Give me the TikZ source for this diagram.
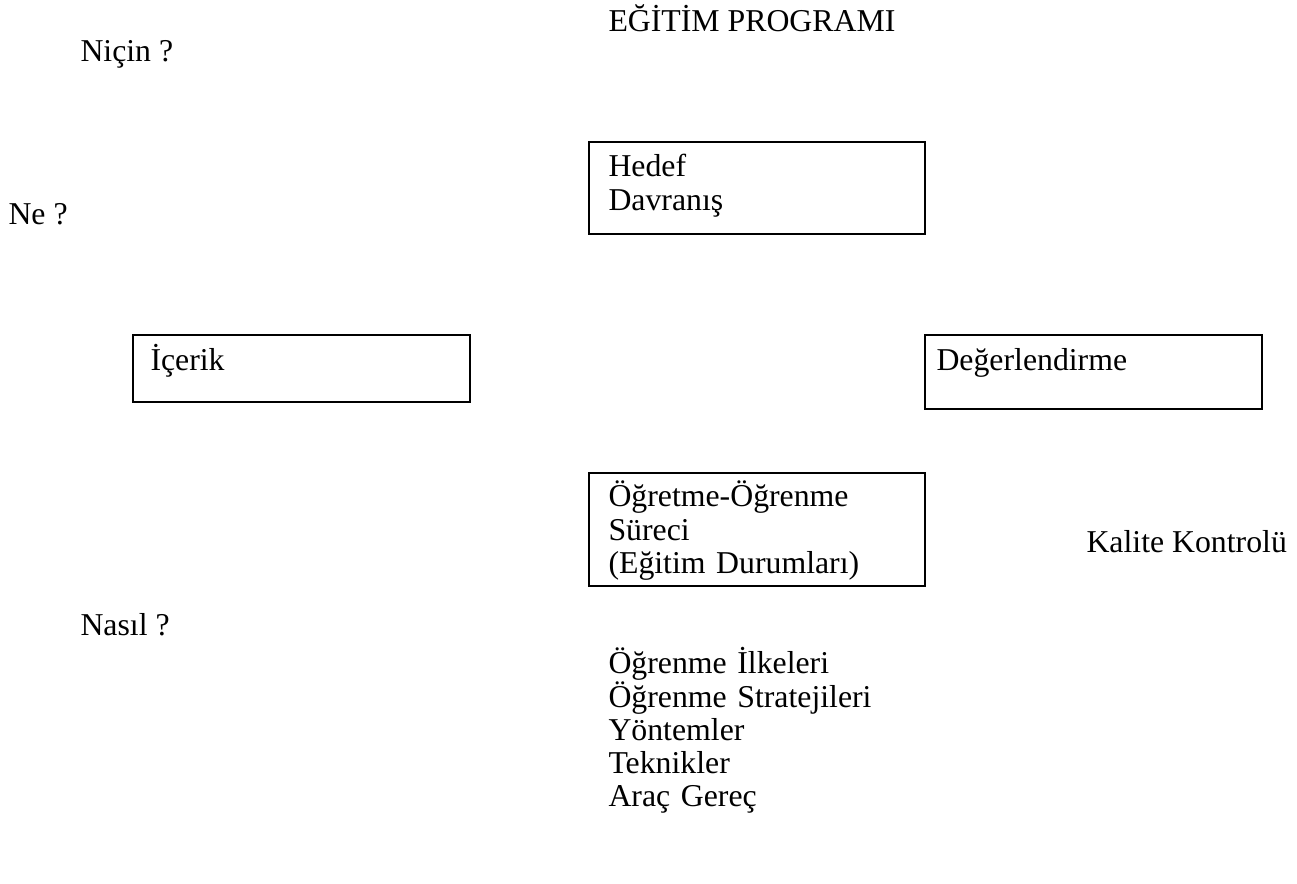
\documentclass[tikz,border=0pt]{standalone}
\usepackage{fontspec}
\setmainfont{Liberation Serif}
\usetikzlibrary{positioning}

\begin{document}
\begin{tikzpicture}[x=0.387pt, y=-0.387pt,
                progbox/.style={draw, line width=0.7pt, anchor=north west, inner sep=0pt},
                boxtext/.style={anchor=base west, inner sep=0pt, align=left, text width=125pt,
                                font=\fontsize{12.3pt}{12.8pt}\selectfont},
                freetext/.style={anchor=base west, inner sep=0pt,
                                 font=\fontsize{12.3pt}{12.8pt}\selectfont}]

                \useasboundingbox (0,0) rectangle (1297,884);

                % Title and questions
                \node[freetext] (baslik) at (608,32) {EĞİTİM PROGRAMI};
                \node[freetext] (nicin) at (80,62) {Niçin ?};
                \node[freetext] (ne) at (8,225) {Ne ?};
                \node[freetext] (nasil) at (80,636) {Nasıl ?};
                \node[freetext] (kalite) at (1086,553) {Kalite Kontrolü};

                % Boxes
                \node[progbox, minimum width=130.0pt, minimum height=35.6pt] (hedef) at (588,141) {};
                \node[progbox, minimum width=130.4pt, minimum height=25.9pt] (icerik) at (132,334) {};
                \node[progbox, minimum width=130.4pt, minimum height=28.6pt] (degerlendirme) at (924,334) {};
                \node[progbox, minimum width=130.0pt, minimum height=43.7pt] (surec) at (588,472) {};

                % Box texts
                \node[boxtext] (hedeftext) at (608,177) {Hedef\\Davranış};
                \node[boxtext] (iceriktext) at (150,371) {İçerik};
                \node[boxtext] (degtext) at (936,371) {Değerlendirme};
                \node[boxtext] (surectext) at (608,507)
                    {Öğretme-Öğrenme\\Süreci\\(Eğitim Durumları)};

                % List under the process box
                \node[boxtext] (ilkeler) at (608,674)
                    {Öğrenme İlkeleri\\Öğrenme Stratejileri\\Yöntemler\\Teknikler\\Araç Gereç};
            \end{tikzpicture}
\end{document}
